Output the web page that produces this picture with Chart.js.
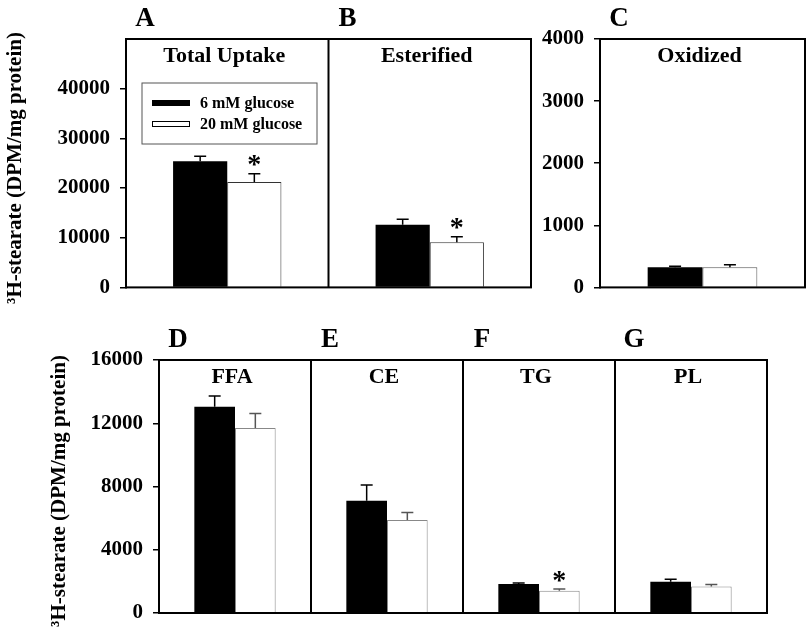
<!DOCTYPE html>
<html>
<head>
<meta charset="utf-8">
<script src="https://cdn.jsdelivr.net/npm/chart.js@4.4.1/dist/chart.umd.min.js"></script>
<style>
  body { margin: 0; background: #fff; }
  #wrap { position: relative; width: 807px; height: 637px; overflow: hidden; }
  canvas { position: absolute; }
</style>
</head>
<body>
<div id="wrap">
  <canvas id="top" width="545" height="310" style="left:0;top:0"></canvas>
  <canvas id="ox" width="277" height="310" style="left:530px;top:0"></canvas>
  <canvas id="lipid" width="790" height="317" style="left:0;top:320px"></canvas>
</div>
<script>
// ---- data ----
const seriesNames = ['6 mM glucose', '20 mM glucose'];
const yTitle = '\u00b3H-stearate (DPM/mg protein)';

const topCats = ['Total Uptake', 'Esterified'];
const topLetters = ['A', 'B'];
const topLow = [25400, 12600];
const topLowErr = [1000, 1100];
const topHigh = [21200, 9100];
const topHighErr = [1700, 1100];
const topSig = [true, true];
const topTicks = [0, 10000, 20000, 30000, 40000];

const oxCats = ['Oxidized'];
const oxLetters = ['C'];
const oxLow = [325];
const oxLowErr = [15];
const oxHigh = [325];
const oxHighErr = [40];
const oxSig = [false];
const oxTicks = [0, 1000, 2000, 3000, 4000];

const lipidCats = ['FFA', 'CE', 'TG', 'PL'];
const lipidLetters = ['D', 'E', 'F', 'G'];
const lipidLow = [13050, 7100, 1830, 1980];
const lipidLowErr = [680, 990, 65, 150];
const lipidHigh = [11700, 5880, 1410, 1680];
const lipidHighErr = [920, 480, 105, 125];
const lipidSig = [false, false, true, false];
const lipidTicks = [0, 4000, 8000, 12000, 16000];

const SERIF = "'Liberation Serif', 'Times New Roman', serif";
Chart.defaults.font.family = SERIF;
Chart.defaults.color = '#000';

// frame, dividers, error bars, panel titles, letters, stars
function deco(cfg) {
  return {
    id: 'deco',
    afterDatasetsDraw(chart) {
      const ctx = chart.ctx, a = chart.chartArea;
      const xs = chart.scales.x, ys = chart.scales.y;
      const n = chart.data.labels.length;
      ctx.save();

      chart.data.datasets.forEach((ds, i) => {
        const meta = chart.getDatasetMeta(i);
        meta.data.forEach((bar, j) => {
          const yTop = ys.getPixelForValue(ds.data[j] + ds.err[j]);
          ctx.strokeStyle = ds.errColor;
          ctx.lineWidth = 1.5;
          ctx.beginPath();
          ctx.moveTo(bar.x, bar.y);
          ctx.lineTo(bar.x, yTop);
          ctx.moveTo(bar.x - 6, yTop);
          ctx.lineTo(bar.x + 6, yTop);
          ctx.stroke();
          if (ds.sig && ds.sig[j]) {
            ctx.fillStyle = '#000';
            ctx.font = 'bold 28px ' + SERIF;
            ctx.textAlign = 'center';
            ctx.textBaseline = 'alphabetic';
            ctx.fillText('*', bar.x, yTop - 0.5);
          }
        });
      });

      // box + dividers
      ctx.strokeStyle = '#000';
      ctx.lineWidth = 2;
      ctx.strokeRect(a.left, a.top, a.right - a.left, a.bottom - a.top);
      for (let j = 0; j < n - 1; j++) {
        const xb = (xs.getPixelForValue(j) + xs.getPixelForValue(j + 1)) / 2;
        ctx.beginPath();
        ctx.moveTo(xb, a.top);
        ctx.lineTo(xb, a.bottom);
        ctx.stroke();
      }

      // titles inside each panel and letters above
      ctx.fillStyle = '#000';
      ctx.textAlign = 'center';
      ctx.textBaseline = 'alphabetic';
      const half = (a.right - a.left) / n / 2;
      chart.data.labels.forEach((lab, j) => {
        const cx = xs.getPixelForValue(j);
        ctx.font = 'bold 22px ' + SERIF;
        ctx.fillText(lab, cx - 3, a.top + 22.5);
        ctx.font = 'bold 27px ' + SERIF;
        ctx.fillText(cfg.letters[j], cx - half + 19, a.top - 13);
      });

      if (cfg.yTitleAt) {
        ctx.save();
        ctx.translate(cfg.yTitleAt[0], cfg.yTitleAt[1]);
        ctx.rotate(-Math.PI / 2);
        ctx.font = 'bold 21px ' + SERIF;
        ctx.textBaseline = 'middle';
        ctx.fillText(yTitle, 0, 0);
        ctx.restore();
      }

      if (cfg.legend) {
        const L = cfg.legend;
        ctx.strokeStyle = '#555';
        ctx.lineWidth = 1;
        ctx.strokeRect(L.x, L.y, L.w, L.h);
        ctx.font = 'bold 16px ' + SERIF;
        ctx.textAlign = 'left';
        seriesNames.forEach((name, k) => {
          const ry = L.y + 17 + k * 21;
          if (k === 0) {
            ctx.fillStyle = '#000';
            ctx.fillRect(L.x + 10, ry, 38, 6);
          } else {
            ctx.fillStyle = '#fff';
            ctx.fillRect(L.x + 10, ry, 38, 6);
            ctx.strokeStyle = '#000';
            ctx.strokeRect(L.x + 10.5, ry + 0.5, 37, 5);
          }
          ctx.fillStyle = '#000';
          ctx.fillText(name, L.x + 58, ry + 8);
        });
      }
      ctx.restore();
    }
  };
}

function yAxis(max, ticks, width) {
  return {
    min: 0,
    max: max,
    afterBuildTicks: s => { s.ticks = ticks.map(v => ({ value: v })); },
    afterFit: s => { s.width = width; },
    ticks: { color: '#000', font: { size: 21, weight: 'bold' }, padding: 10, callback: v => String(v) },
    grid: { display: true, drawOnChartArea: false, drawTicks: true, tickLength: 6, color: '#000', lineWidth: 1.5 },
    border: { display: true, color: '#000', width: 2 }
  };
}

function panel(id, cats, low, lowErr, high, highErr, sig, yMax, yTicks, yWidth, pad, cfg, whiteBorder, whiteErr) {
  new Chart(document.getElementById(id), {
    type: 'bar',
    data: {
      labels: cats,
      datasets: [
        { label: seriesNames[0], data: low, err: lowErr, errColor: '#000',
          backgroundColor: '#000', borderWidth: 0,
          categoryPercentage: 0.535, barPercentage: 1 },
        { label: seriesNames[1], data: high, err: highErr, errColor: whiteErr, sig: sig,
          backgroundColor: '#fff', borderColor: whiteBorder, borderWidth: 1,
          categoryPercentage: 0.535, barPercentage: 1 }
      ]
    },
    options: {
      responsive: false,
      animation: false,
      events: [],
      layout: { padding: pad },
      plugins: { legend: { display: false }, tooltip: { enabled: false } },
      scales: {
        x: { display: false },
        y: yAxis(yMax, yTicks, yWidth)
      }
    },
    plugins: [deco(cfg)]
  });
}

panel('top', topCats, topLow, topLowErr, topHigh, topHighErr, topSig,
  50000, topTicks, 126, { left: 0, top: 39, right: 14, bottom: 18 },
  { letters: topLetters, yTitleAt: [16, 168], legend: { x: 142, y: 83, w: 175, h: 61 } },
  '#333', '#000');

panel('ox', oxCats, oxLow, oxLowErr, oxHigh, oxHighErr, oxSig,
  4000, oxTicks, 70, { left: 0, top: 39, right: 2, bottom: 18 },
  { letters: oxLetters },
  '#555', '#000');

panel('lipid', lipidCats, lipidLow, lipidLowErr, lipidHigh, lipidHighErr, lipidSig,
  16000, lipidTicks, 159, { left: 0, top: 40, right: 23, bottom: 24 },
  { letters: lipidLetters, yTitleAt: [60, 171] },
  '#888', '#555');
</script>
</body>
</html>
